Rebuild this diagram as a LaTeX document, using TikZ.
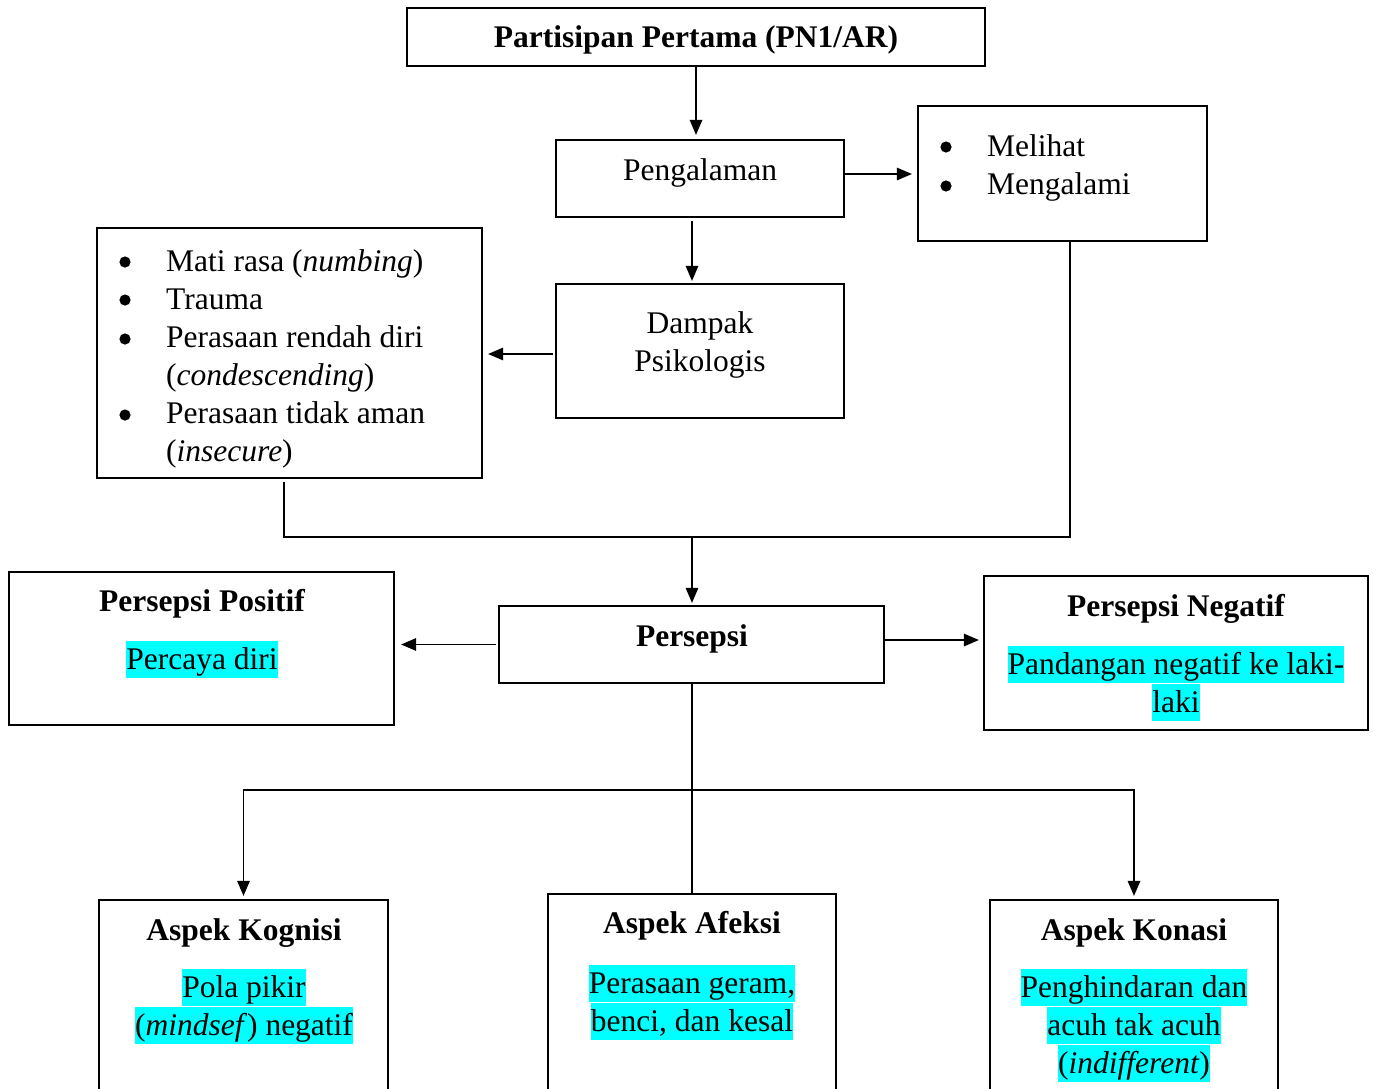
\documentclass[tikz,border=0pt]{standalone}
\usepackage{fontspec}
\setmainfont{Liberation Serif}
\usetikzlibrary{arrows.meta}
\definecolor{hlcyan}{RGB}{0,255,255}
% one text line: fixed height and depth so highlighted lines stack tightly
\newcommand\lnstrut{\rule[-9pt]{0pt}{37pt}}
\newcommand\hilite[1]{{\setlength{\fboxsep}{0pt}\colorbox{hlcyan}{\lnstrut#1}}}
\newcommand\bulind{\hspace*{46.5pt}}
\begin{document}
\begin{tikzpicture}[x=1pt,y=-1pt,
  box/.style={draw, line width=2.2pt, inner sep=0pt},
  txt/.style={inner sep=0pt, anchor=north, align=center, font=\fontsize{31.5}{38}\selectfont},
  ttl/.style={txt, font=\fontsize{31.5}{38}\selectfont\bfseries},
  lst/.style={txt, anchor=north west, align=left},
  dot/.style={fill=black},
  conn/.style={line width=1.3pt},
  arr/.style={conn, -{Triangle[length=15pt,width=12.5pt]}}]
\useasboundingbox (0,0) rectangle (1373,1088);
\clip (0,0) rectangle (1373,1088);

% boxes
\node[box, minimum width=578pt, minimum height=58pt]  (top)  at (696,37) {};
\node[box, minimum width=288pt, minimum height=77pt]  (peng) at (700,178.5) {};
\node[box, minimum width=289pt, minimum height=135pt] (mel)  at (1062.5,173.5) {};
\node[box, minimum width=288pt, minimum height=134pt] (damp) at (700,351) {};
\node[box, minimum width=385pt, minimum height=250pt] (eff)  at (289.5,353) {};
\node[box, minimum width=385pt, minimum height=77pt]  (pers) at (691.5,644.5) {};
\node[box, minimum width=385pt, minimum height=153pt] (pos)  at (201.5,648.5) {};
\node[box, minimum width=384pt, minimum height=154pt] (neg)  at (1176,653) {};
\node[box, minimum width=289pt, minimum height=200pt] (kog)  at (243.5,1000) {};
\node[box, minimum width=288pt, minimum height=206pt] (afe)  at (692,997) {};
\node[box, minimum width=288pt, minimum height=200pt] (kon)  at (1134,1000) {};

% texts
\node[ttl] (topT) at (696,19) {\lnstrut Partisipan Pertama (PN1/AR)};
\node[txt] (pengT) at (700,152) {\lnstrut Pengalaman};
\node[lst] (melT) at (940.5,128) {\lnstrut\bulind Melihat\\\lnstrut\bulind Mengalami};
\node[txt] (dampT) at (700,305) {\lnstrut Dampak\\\lnstrut Psikologis};
\node[lst] (effT) at (119.5,243) {%
  \lnstrut\bulind Mati rasa (\textit{numbing})\\
  \lnstrut\bulind Trauma\\
  \lnstrut\bulind Perasaan rendah diri\\
  \lnstrut\bulind(\textit{condescending})\\
  \lnstrut\bulind Perasaan tidak aman\\
  \lnstrut\bulind(\textit{insecure})};
\node[ttl] (persT) at (692,618) {\lnstrut Persepsi};
\node[ttl] (posT) at (202,583) {\lnstrut Persepsi Positif};
\node[txt] (posB) at (202,641) {\hilite{Percaya diri}};
\node[ttl] (negT) at (1176,588) {\lnstrut Persepsi Negatif};
\node[txt] (negB) at (1176,646) {\hilite{Pandangan negatif ke laki-}\\\hilite{laki}};
\node[ttl] (kogT) at (244,912) {\lnstrut Aspek Kognisi};
\node[txt] (kogB) at (244,969) {\hilite{Pola pikir}\\\hilite{(\textit{mindsef}) negatif}};
\node[ttl] (afeT) at (692,905) {\lnstrut Aspek Afeksi};
\node[txt] (afeB) at (692,965) {\hilite{Perasaan geram,}\\\hilite{benci, dan kesal}};
\node[ttl] (konT) at (1134,912) {\lnstrut Aspek Konasi};
\node[txt] (konB) at (1134,969) {\hilite{Penghindaran dan}\\\hilite{acuh tak acuh}\\\hilite{(\textit{indifferent})}};

% list bullets
\foreach \y in {147,186} \fill[dot] (946,\y) circle (5.6);
\foreach \y in {262,300,339,415} \fill[dot] (125,\y) circle (5.6);

% connectors
\coordinate (j1) at (692,537);
\coordinate (j2) at (692,790);
\draw[arr, shorten >=4pt] (top.south) -- (top.south |- peng.north);
\draw[arr, shorten >=5pt] ([yshift=4.5pt]peng.east) -- ([yshift=4.5pt]peng.east -| mel.west);
\draw[arr, shorten <=3pt, shorten >=2pt] ([xshift=-8pt]peng.south) -- ([xshift=-8pt]damp.north);
\draw[arr, shorten <=2pt, shorten >=5pt] ([yshift=-3pt]damp.west) -- ([yshift=-3pt]damp.west -| eff.east);
\draw[conn, shorten <=3pt] ([xshift=-5.5pt]eff.south) |- (j1);
\draw[conn] ([xshift=7.5pt]mel.south) |- (j1);
\draw[arr, shorten >=2pt] (j1) -- (j1 |- pers.north);
\draw[arr, shorten <=2pt, shorten >=6pt] (pers.west) -- (pers.west -| pos.east);
\draw[arr, shorten >=4pt] ([yshift=4.5pt]pers.east) -- ([yshift=4.5pt]pers.east -| neg.west);
\draw[conn] (j2 |- pers.south) -- (afe.north);
\draw[arr, shorten >=3pt] (j2) -| (kog.north);
\draw[arr, shorten >=3pt] (j2) -| (kon.north);
\end{tikzpicture}
\end{document}
